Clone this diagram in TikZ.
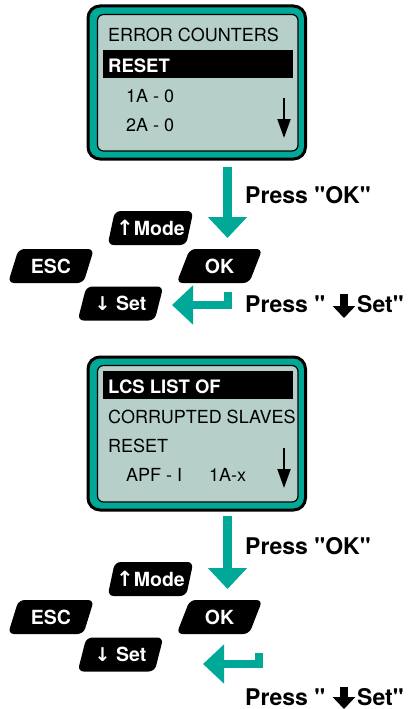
\documentclass[tikz,border=0pt]{standalone}
\usepackage{fontspec}
\setmainfont{TeX Gyre Heros}[Ligatures=TeXOff]
\newfontfamily\symfont{DejaVu Sans}
\usetikzlibrary{arrows.meta,shapes.geometric}
\definecolor{lcdteal}{RGB}{0,168,152}
\definecolor{lcdscreen}{RGB}{182,207,201}

\begin{document}
\begin{tikzpicture}[x=1pt,y=-1pt,line join=round,
  every node/.style={inner sep=0pt},
  frame/.style={draw,line width=3pt,fill=lcdteal,rounded corners=12pt,minimum width=217.5pt,minimum height=153pt},
  screen/.style={draw,line width=1.2pt,fill=lcdscreen,rounded corners=6pt,minimum width=200.5pt,minimum height=136.5pt},
  row/.style={anchor=base west,font=\fontsize{18}{20}\selectfont},
  hirow/.style={anchor=base west,text=white,font=\fontsize{18.5}{20}\selectfont\bfseries},
  key/.style={trapezium,trapezium left angle=66,trapezium right angle=114,trapezium stretches=true,
    fill=black,rounded corners=6pt,minimum width=86pt,minimum height=34pt,
    text=white,font=\fontsize{19.5}{20}\selectfont\bfseries},
  press/.style={anchor=base west,font=\fontsize{23}{24}\selectfont\bfseries},
  flow/.style={draw=lcdteal,line width=9pt,-{Triangle[length=21pt,width=38pt]}},
  back/.style={draw=lcdteal,line width=8pt,line join=miter,-{Triangle[length=21pt,width=38pt]}},
  scroll/.style={line width=2pt,-{Triangle[length=19pt,width=13pt]}},
  heavy/.style={line width=8pt,-{Triangle[length=12pt,width=22pt]}}]
  \def\up{{\symfont\bfseries\fontsize{21}{20}\selectfont↑}}
  \def\dn{{\symfont\bfseries\fontsize{19}{20}\selectfont↓}}
  \useasboundingbox (0,0) rectangle (410,709);
  % first screen
  \node[frame] (lcdA) at (196.75,82.5) {};
  \node[screen] (scrA) at (197.75,82.75) {};
  \fill (103,50) rectangle (293,78);
  \node[row] (errA) at (108,42) {ERROR COUNTERS};
  \node[hirow] (rstA) at (108,72) {RESET};
  \node[row] (cntA) at (126,102) {1A - 0};
  \node[row] (cntB) at (126,131) {2A - 0};
  \draw[scroll] (284,98) -- (284,138);
  % keys, first step
  \coordinate (okA) at (227.5,167);
  \coordinate (okB) at (227.5,238);
  \draw[flow] (okA) -- (okB);
  \node[press] (pokA) at (245,203) {Press "OK"};
  \node[key] (modeA) at (150.5,228) {\up Mode};
  \node[key] (escA) at (51,266) {ESC};
  \node[key] (keyokA) at (219.5,266) {OK};
  \node[key] (setA) at (120.5,303.5) {\dn\ Set};
  \coordinate (retA) at (228,292);
  \coordinate (retB) at (172,305);
  \draw[back] (retA) |- (retB);
  \node[press] (psetA) at (245,312) {Press "};
  \draw[heavy] (344,294) -- (344,318);
  \node[press] (psetA') at (357,312) {Set"};
  % second screen
  \begin{scope}[shift={(0,351)}]
    \node[frame] (lcdB) at (196.75,82.5) {};
    \node[screen] (scrB) at (197.75,82.75) {};
    \fill (103,20) rectangle (293,48);
    \node[hirow] (lcsB) at (108,42) {LCS LIST OF};
    \node[row] (corB) at (108,72) {CORRUPTED SLAVES};
    \node[row] (rstB) at (108,101) {RESET};
    \node[row] (apfB) at (126,130) {APF - I};
    \node[row] (adrB) at (209,130) {1A-x};
    \draw[scroll] (284,97) -- (284,137);
    % keys, second step
    \coordinate (okC) at (227.5,165);
    \coordinate (okD) at (227.5,238);
    \draw[flow] (okC) -- (okD);
    \node[press] (pokB) at (245,203) {Press "OK"};
    \node[key] (modeB) at (150.5,228) {\up Mode};
    \node[key] (escB) at (51,266) {ESC};
    \node[key] (keyokB) at (219.5,266) {OK};
    \node[key] (setB) at (120.5,303.5) {\dn\ Set};
    \coordinate (retC) at (259,302);
    \coordinate (retD) at (203,313);
    \draw[back] (retC) |- (retD);
    \node[press] (psetB) at (245,354) {Press "};
    \draw[heavy] (344,336) -- (344,358);
    \node[press] (psetB') at (357,354) {Set"};
  \end{scope}
\end{tikzpicture}
\end{document}
